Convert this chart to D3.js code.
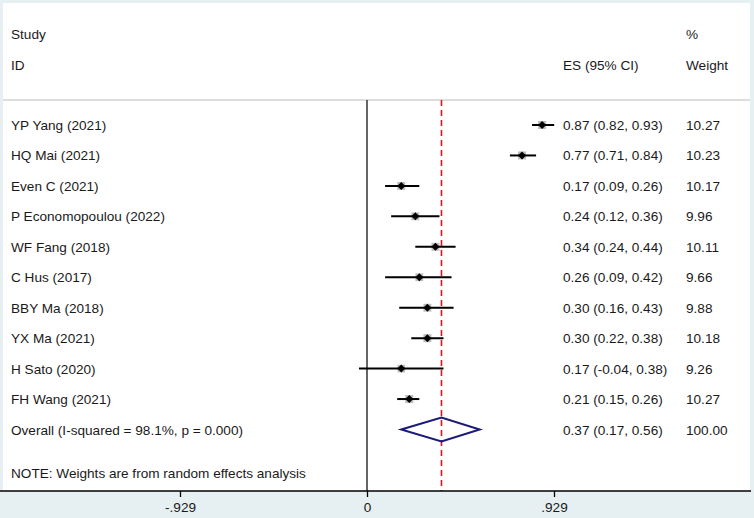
<!DOCTYPE html>
<html><head><meta charset="utf-8">
<script src="https://cdn.jsdelivr.net/npm/d3@7"></script>
<style>body{margin:0;background:#fff}svg{display:block}text{font-family:"Liberation Sans",Arial,sans-serif;font-size:13.6px;fill:#1a1a1a}</style>
</head><body><svg id="c" width="754" height="518"></svg>
<script>
const studies = ["YP Yang (2021)","HQ Mai (2021)","Even C (2021)","P Economopoulou  (2022)","WF Fang (2018)","C Hus (2017)","BBY Ma (2018)","YX Ma (2021)","H Sato (2020)","FH Wang (2021)"];
const es = [0.87,0.77,0.17,0.24,0.34,0.26,0.30,0.30,0.17,0.21];
const lo = [0.82,0.71,0.09,0.12,0.24,0.09,0.16,0.22,-0.04,0.15];
const hi = [0.93,0.84,0.26,0.36,0.44,0.42,0.43,0.38,0.38,0.26];
const weights = ["10.27","10.23","10.17","9.96","10.11","9.66","9.88","10.18","9.26","10.27"];
const overallLabel = "Overall  (I-squared = 98.1%, p = 0.000)";
const overallES = [0.37, 0.17, 0.56];
const overallW = "100.00";
const tickVals = [-0.929, 0, 0.929];
const tickLabels = ["-.929","0",".929"];
const note = "NOTE: Weights are from random effects analysis";

const svg = d3.select("#c");
const W=754,H=518;
svg.append("rect").attr("width",W).attr("height",H).attr("fill","#e6eff1");
svg.append("rect").attr("x",3).attr("y",3).attr("width",W-7).attr("height",488).attr("fill","#fff");

const x = d3.scaleLinear().domain([-0.929,0.929]).range([180,554]);
const y = d3.scaleLinear().domain([0,10]).range([125,429.5]);
const sz = d3.scaleSqrt().domain([0,10.27]).range([0,8]);
const loc = d3.formatLocale({decimal:".",thousands:",",grouping:[3],currency:["$",""],minus:"-"});
const fmt = loc.format(".2f");
const cx = 563, wx = 686;

// header
svg.append("text").attr("x",11).attr("y",39).text("Study");
svg.append("text").attr("x",11).attr("y",70).text("ID");
svg.append("text").attr("x",cx).attr("y",70).text("ES (95% CI)");
svg.append("text").attr("x",wx).attr("y",39).text("%");
svg.append("text").attr("x",wx).attr("y",70).text("Weight");
svg.append("line").attr("x1",3).attr("x2",750).attr("y1",100).attr("y2",100).attr("stroke","#bbb").attr("stroke-width",1.2);

// reference lines
svg.append("line").attr("x1",x(0)).attr("x2",x(0)).attr("y1",100).attr("y2",491).attr("stroke","#333").attr("stroke-width",1.5);
svg.append("line").attr("x1",x(overallES[0])).attr("x2",x(overallES[0])).attr("y1",100).attr("y2",491).attr("stroke","#e8101c").attr("stroke-width",1.6).attr("stroke-dasharray","6,4");

const rows = studies.map((s,i)=>({s,es:es[i],lo:lo[i],hi:hi[i],w:weights[i],i}));
const g = svg.append("g");
rows.forEach(d=>{
  const yy=y(d.i);
  g.append("text").attr("x",11).attr("y",yy+5).text(d.s);
  g.append("text").attr("x",cx).attr("y",yy+5).text(`${fmt(d.es)} (${fmt(d.lo)}, ${fmt(d.hi)})`);
  g.append("text").attr("x",wx).attr("y",yy+5).text(d.w);
  const s=sz(+d.w);
  g.append("rect").attr("x",x(d.es)-s/2).attr("y",yy-s/2).attr("width",s).attr("height",s).attr("fill","#bdbdbd");
  g.append("line").attr("x1",x(d.lo)).attr("x2",x(d.hi)).attr("y1",yy).attr("y2",yy).attr("stroke","#000").attr("stroke-width",2);
  g.append("path").attr("d",`M${x(d.es)-4},${yy}L${x(d.es)},${yy-4}L${x(d.es)+4},${yy}L${x(d.es)},${yy+4}Z`).attr("fill","#000");
});
const oy=y(10);
svg.append("text").attr("x",11).attr("y",oy+5).text(overallLabel);
svg.append("text").attr("x",cx).attr("y",oy+5).text(`${fmt(overallES[0])} (${fmt(overallES[1])}, ${fmt(overallES[2])})`);
svg.append("text").attr("x",wx).attr("y",oy+5).text(overallW);
svg.append("path").attr("d",`M${x(overallES[1])},${oy}L${x(overallES[0])},${oy-12}L${x(overallES[2])},${oy}L${x(overallES[0])},${oy+12}Z`).attr("fill","none").attr("stroke","#1a1a7a").attr("stroke-width",2);

svg.append("text").attr("x",11).attr("y",478).text(note);

// axis
const ax = d3.axisBottom(x).tickValues(tickVals).tickFormat((d,i)=>tickLabels[i]).tickSize(6).tickPadding(5);
const axg = svg.append("g").attr("transform","translate(0,491)").call(ax);
axg.select(".domain").remove();
axg.selectAll("line").attr("stroke","#000").attr("stroke-width",1.3);
axg.selectAll("text").style("font-size","13.6px").attr("fill","#1a1a1a").style("font-family","Liberation Sans, Arial, sans-serif");
svg.append("line").attr("x1",0).attr("x2",751).attr("y1",491).attr("y2",491).attr("stroke","#000").attr("stroke-width",1.5);
</script></body></html>
